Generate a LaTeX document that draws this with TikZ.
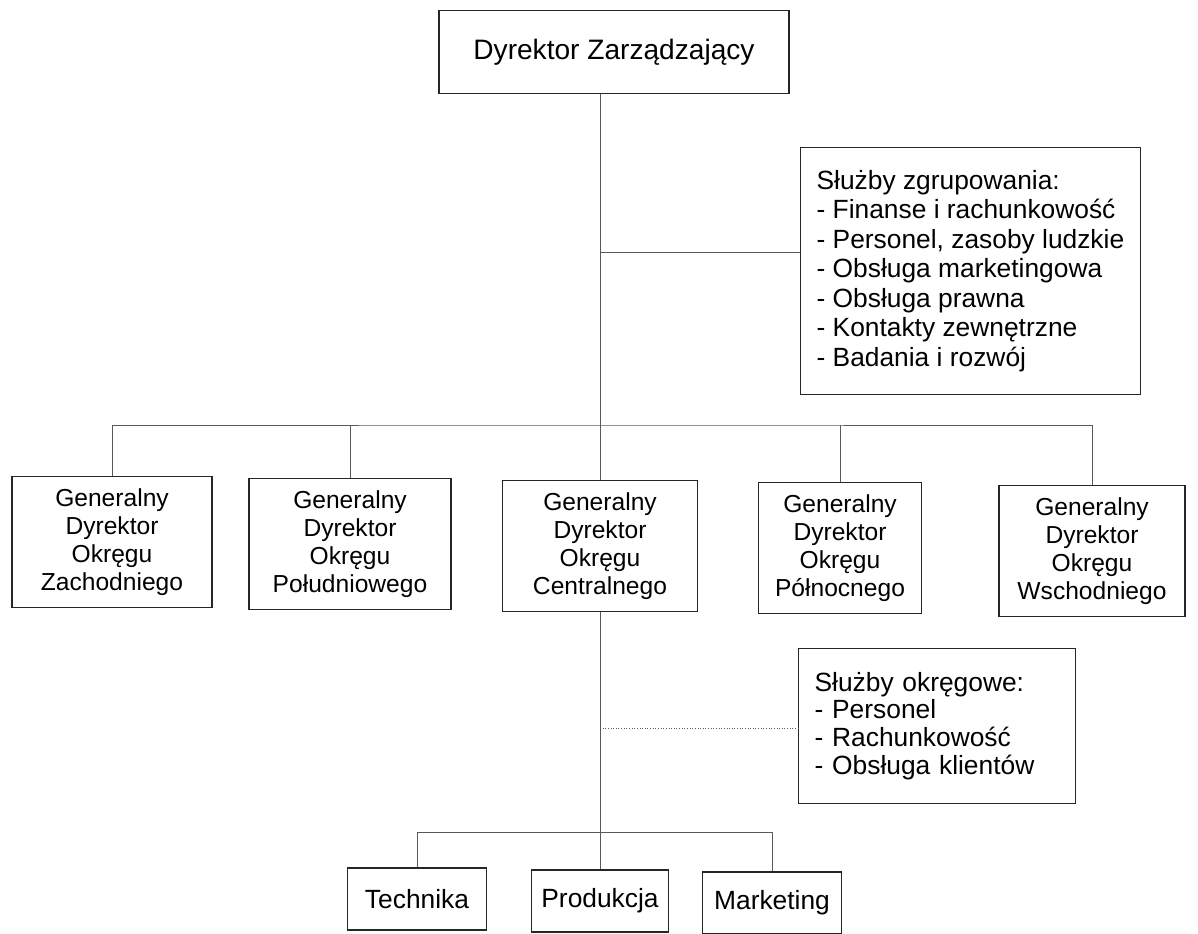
\documentclass[tikz,border=0pt]{standalone}
\usepackage{fontspec}
\setmainfont{Liberation Sans}
\usetikzlibrary{positioning}
\tikzset{
  box/.style={draw=black!85, line width=0.7pt, align=center, inner sep=2pt},
  headbox/.style={box, minimum width=7cm, minimum height=1.66cm, font=\fontsize{16}{19}\selectfont},
  distbox/.style={box, minimum height=2.62cm, font=\fontsize{14}{16}\selectfont},
  unitbox/.style={box, minimum width=2.78cm, minimum height=1.24cm, font=\fontsize{15}{18}\selectfont},
  servbox/.style={box, align=left, anchor=west, inner xsep=0.32cm, font=\fontsize{15}{16.8}\selectfont},
  link/.style={draw=black!65, line width=0.5pt},
  dotlink/.style={link, densely dotted}
}

\begin{document}
\begin{tikzpicture}[x=0.02cm, y=-0.02cm]
  \useasboundingbox (0,0) rectangle (1198,934);
  % top level
  \node[headbox] (dz) at (614,52) {Dyrektor Zarządzający};
  \node[servbox, minimum height=4.94cm] (sgr) at (800,271) {Służby zgrupowania:\\- Finanse i rachunkowość\\- Personel, zasoby ludzkie\\- Obsługa marketingowa\\- Obsługa prawna\\- Kontakty zewnętrzne\\- Badania i rozwój};
  % districts
  \node[distbox, minimum width=4cm] (zach) at (112,542) {Generalny\\Dyrektor\\Okręgu\\Zachodniego};
  \node[distbox, minimum width=4.04cm] (pold) at (350,544) {Generalny\\Dyrektor\\Okręgu\\Południowego};
  \node[distbox, minimum width=3.9cm] (cent) at (600,546) {Generalny\\Dyrektor\\Okręgu\\Centralnego};
  \node[distbox, minimum width=3.26cm] (poln) at (840,548) {Generalny\\Dyrektor\\Okręgu\\Północnego};
  \node[distbox, minimum width=3.72cm] (wsch) at (1092,551) {Generalny\\Dyrektor\\Okręgu\\Wschodniego};
  \node[servbox, text width=4.9cm, minimum height=3.1cm, font=\fontsize{15}{15.8}\selectfont] (sok) at (798,726) {Służby okręgowe:\\- Personel\\- Rachunkowość\\- Obsługa klientów};
  % units
  \node[unitbox] (tech) at (417,899) {Technika};
  \node[unitbox, minimum width=2.74cm] (prod) at (600,901) {Produkcja};
  \node[unitbox] (mark) at (772,903) {Marketing};
  % connectors
  \coordinate (c1) at (600,252);
  \coordinate (b1) at (600,425);
  \coordinate (c2) at (600,728);
  \coordinate (b2) at (600,832);
  \draw[link] (dz.south -| b1) -- (cent.north);
  \draw[link] (c1) -- (c1 -| sgr.west);
  \draw[link] (zach.north) |- (b1) -| (wsch.north);
  \draw[link] (pold.north) -- (pold.north |- b1);
  \draw[link] (poln.north) -- (poln.north |- b1);
  \draw[link] (cent.south) -- (prod.north);
  \draw[dotlink] (c2) -- (c2 -| sok.west);
  \draw[link] (tech.north) |- (b2) -| (mark.north);
\end{tikzpicture}
\end{document}
